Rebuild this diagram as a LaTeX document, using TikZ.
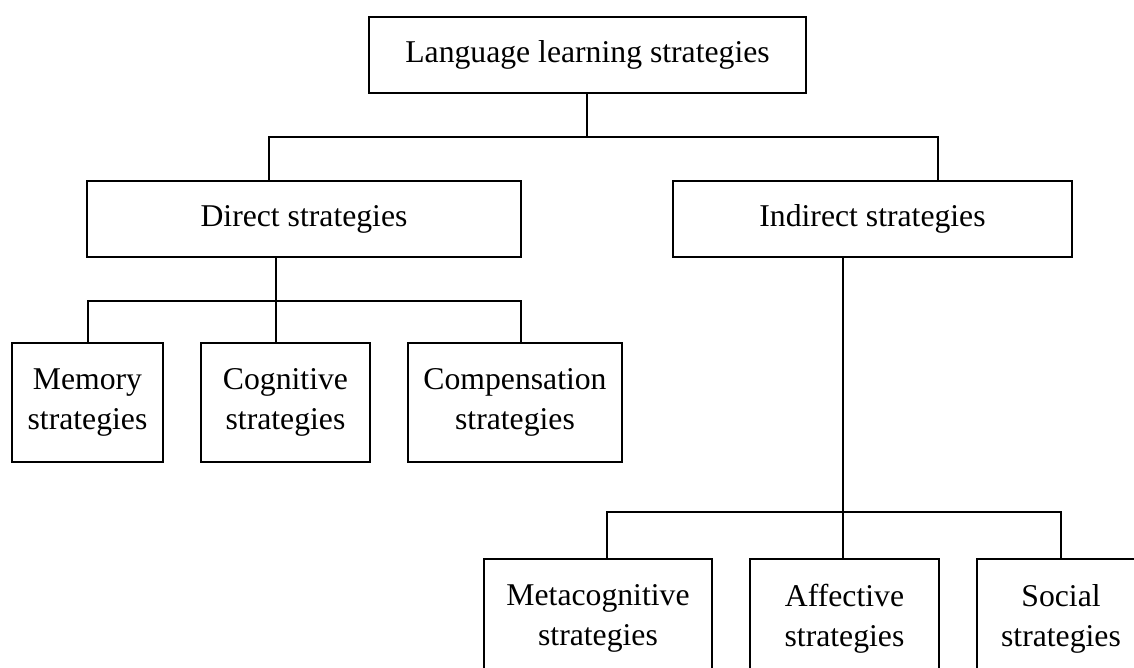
\documentclass[tikz,border=0pt]{standalone}
\usepackage{fontspec}
\setmainfont{Liberation Serif}
\begin{document}
\begin{tikzpicture}[x=1pt,y=-1pt,
  box/.style={draw=black,line width=2pt,fill=white,inner sep=0pt,
    align=center,font=\fontsize{31.7}{40}\selectfont},
  link/.style={draw=black,line width=2pt}]
\clip (0,0) rectangle (1134,668);
\useasboundingbox (0,0) rectangle (1134,668);

% root and first level
\node[box,minimum width=437pt,minimum height=76pt] (root) at (587.5,55) {Language learning strategies};
\node[box,minimum width=434pt,minimum height=76pt] (direct) at (304,219) {Direct strategies};
\node[box,minimum width=399pt,minimum height=76pt] (indirect) at (872.5,219) {Indirect strategies};

% direct strategies
\node[box,minimum width=151pt,minimum height=119pt] (memory) at (87.5,402.5) {Memory\\strategies};
\node[box,minimum width=169pt,minimum height=119pt] (cognitive) at (285.5,402.5) {Cognitive\\strategies};
\node[box,minimum width=214pt,minimum height=119pt] (compensation) at (515,402.5) {Compensation\\strategies};

% indirect strategies
\node[box,minimum width=228pt,minimum height=119pt] (meta) at (598,618.5) {Metacognitive\\strategies};
\node[box,minimum width=189pt,minimum height=119pt] (affective) at (844.5,618.5) {Affective\\strategies};
\node[box,minimum width=168pt,minimum height=119pt] (social) at (1061,618.5) {Social\\strategies};

% branching points
\coordinate (rootbar) at (587,137);
\coordinate (dirbar) at (276,301);
\coordinate (indbar) at (843,512);

% connectors
\draw[link] (root.south -| rootbar) -- (rootbar);
\draw[link] (269,181) |- (rootbar) -| (938,181);
\draw[link] (direct.south -| dirbar) -- (dirbar);
\draw[link] (memory.north) |- (dirbar) -| (521,343);
\draw[link] (dirbar) -- (dirbar |- cognitive.north);
\draw[link] (indirect.south -| indbar) -- (indbar);
\draw[link] (607,559) |- (indbar) -| (social.north);
\draw[link] (indbar) -- (indbar |- affective.north);
\end{tikzpicture}
\end{document}
